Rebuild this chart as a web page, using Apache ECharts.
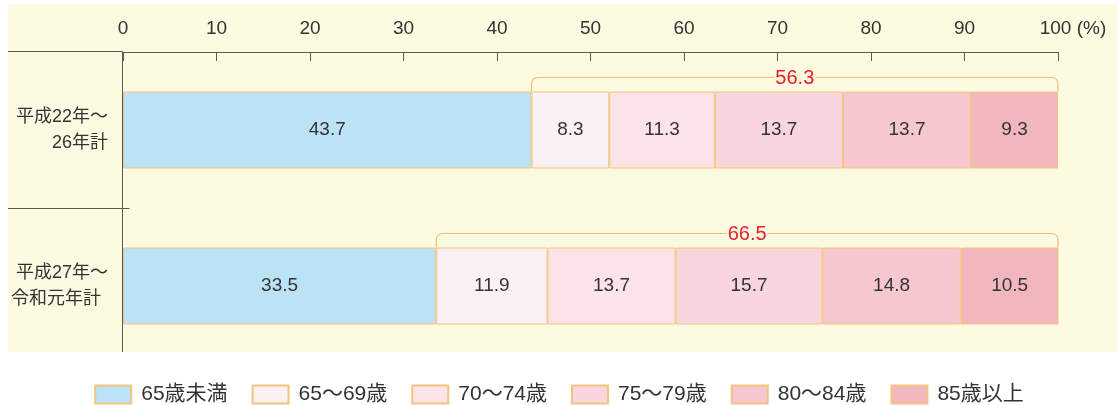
<!DOCTYPE html>
<html lang="ja">
<head>
<meta charset="utf-8">
<title>年齢階層別構成比</title>
<script src="https://cdn.jsdelivr.net/npm/echarts@6/dist/echarts.min.js"></script>
<style>
  html, body { margin: 0; padding: 0; background: #ffffff; }
  #chart { width: 1118px; height: 405px; }
</style>
</head>
<body>
<div id="chart"></div>
<script>
// 期間区分
const categories = ['平成22年～\n26年計', '平成27年～\n令和元年計'];
// 年齢階層
const ageGroups = ['65歳未満', '65～69歳', '70～74歳', '75～79歳', '80～84歳', '85歳以上'];
// 構成比 (%)
const under65 = [43.7, 33.5];
const age65to69 = [8.3, 11.9];
const age70to74 = [11.3, 13.7];
const age75to79 = [13.7, 15.7];
const age80to84 = [13.7, 14.8];
const age85plus = [9.3, 10.5];
// 65歳以上の合計 (%)
const over65Totals = [56.3, 66.5];
// 目盛
const xTicks = [0, 10, 20, 30, 40, 50, 60, 70, 80, 90, 100];

const seriesValues = [under65, age65to69, age70to74, age75to79, age80to84, age85plus];
const colors = ['#bce2f5', '#fbf0f4', '#fbe3e8', '#f9d6dd', '#f6c7cf', '#f2b7be'];
const BORDER = '#f4c47f';
const CREAM = '#fdfae2';
const AXIS = '#5a5a5a';
const FONT = "'Liberation Sans', 'Noto Sans CJK JP', sans-serif";
const GRID_TOP = 52;
const BAR_W = 77;

const chart = echarts.init(document.getElementById('chart'), null, { renderer: 'canvas' });

const barSeries = ageGroups.map((name, k) => ({
  name: name,
  type: 'bar',
  stack: 'total',
  barWidth: BAR_W,
  data: seriesValues[k],
  itemStyle: { color: colors[k], borderColor: BORDER, borderWidth: 1 },
  label: {
    show: true, position: 'inside', color: '#333', fontSize: 19, fontFamily: FONT,
    formatter: p => p.value.toFixed(1)
  },
  emphasis: { disabled: true },
  z: 2
}));

// 65歳以上をまとめる括弧と合計値
const bracketSeries = {
  type: 'custom',
  name: 'bracket',
  data: categories.map((c, i) => [under65[i], i, over65Totals[i]]),
  encode: { x: 0, y: 1 },
  z: 5,
  silent: true,
  renderItem: function (params, api) {
    const left = api.coord([api.value(0), api.value(1)]);
    const right = api.coord([xTicks[xTicks.length - 1], api.value(1)]);
    const barTop = left[1] - BAR_W / 2;
    const top = barTop - 14;
    const r = 7;
    const x0 = left[0], x1 = right[0];
    const d = 'M' + x0 + ' ' + barTop +
      ' L' + x0 + ' ' + (top + r) +
      ' Q' + x0 + ' ' + top + ' ' + (x0 + r) + ' ' + top +
      ' L' + (x1 - r) + ' ' + top +
      ' Q' + x1 + ' ' + top + ' ' + x1 + ' ' + (top + r) +
      ' L' + x1 + ' ' + barTop;
    return {
      type: 'group',
      children: [
        {
          type: 'path',
          shape: { pathData: d, x: x0, y: top, width: x1 - x0, height: barTop - top, layout: 'cover' },
          style: { fill: null, stroke: '#f3bd6e', lineWidth: 1.2 }
        },
        {
          type: 'text',
          style: {
            text: api.value(2).toFixed(1),
            x: (x0 + x1) / 2, y: top + 1,
            align: 'center', verticalAlign: 'middle',
            fill: '#e5202a', font: '20px ' + FONT,
            backgroundColor: CREAM, padding: [0, 1]
          }
        }
      ]
    };
  }
};

const option = {
  animation: false,
  backgroundColor: '#ffffff',
  textStyle: { fontFamily: FONT },
  grid: { left: 123, right: 60, top: GRID_TOP, height: 312, containLabel: false },
  xAxis: {
    type: 'value',
    position: 'top',
    min: xTicks[0],
    max: xTicks[xTicks.length - 1],
    interval: 10,
    axisLine: { show: true, lineStyle: { color: AXIS, width: 1 } },
    axisTick: { show: true, inside: true, length: 9, lineStyle: { color: AXIS } },
    splitLine: { show: false },
    axisLabel: {
      margin: 14, color: '#333', fontSize: 19, fontFamily: FONT,
      formatter: v => (v === 100 ? '{s|}100 (%)' : String(v)),
      rich: { s: { width: 30 } }
    }
  },
  yAxis: {
    type: 'category',
    inverse: true,
    data: categories,
    axisLine: { show: false },
    axisTick: { show: false },
    axisLabel: {
      margin: 15, color: '#333', fontSize: 18, lineHeight: 26, align: 'right', fontFamily: FONT,
      formatter: (v, i) => (i === 1 ? v + '{s|}' : v),
      rich: { s: { width: 7 } }
    }
  },
  legend: {
    data: ageGroups,
    left: 'center',
    top: 379,
    icon: 'rect',
    itemWidth: 36,
    itemHeight: 18,
    itemGap: 24,
    textStyle: { color: '#333', fontSize: 21, fontFamily: FONT, padding: [0, 0, 0, 5] },
    selectedMode: false
  },
  series: barSeries.concat([bracketSeries])
};

chart.setOption(option);

// 背景・軸線・区切り線
const xZero = chart.convertToPixel({ xAxisIndex: 0 }, xTicks[0]);
const c0 = chart.convertToPixel({ yAxisIndex: 0 }, 0);
const c1 = chart.convertToPixel({ yAxisIndex: 0 }, 1);
const crisp = v => Math.round(v) + 0.5;
const divY = crisp((c0 + c1) / 2);
const axisY = crisp(GRID_TOP) - 1;
const xz = crisp(xZero) - 1;
const panelBottom = 352;

chart.setOption({
  graphic: [
    { type: 'rect', z: -10, silent: true, shape: { x: 8, y: 4, width: 1110, height: panelBottom - 4 }, style: { fill: CREAM } },
    { type: 'line', z: 10, silent: true, shape: { x1: 8, y1: axisY, x2: xz, y2: axisY }, style: { stroke: AXIS, lineWidth: 1 } },
    { type: 'line', z: 10, silent: true, shape: { x1: xz, y1: axisY, x2: xz, y2: panelBottom }, style: { stroke: AXIS, lineWidth: 1 } },
    { type: 'line', z: 10, silent: true, shape: { x1: 8, y1: divY, x2: xz + 7, y2: divY }, style: { stroke: AXIS, lineWidth: 1 } }
  ]
});
</script>
</body>
</html>
